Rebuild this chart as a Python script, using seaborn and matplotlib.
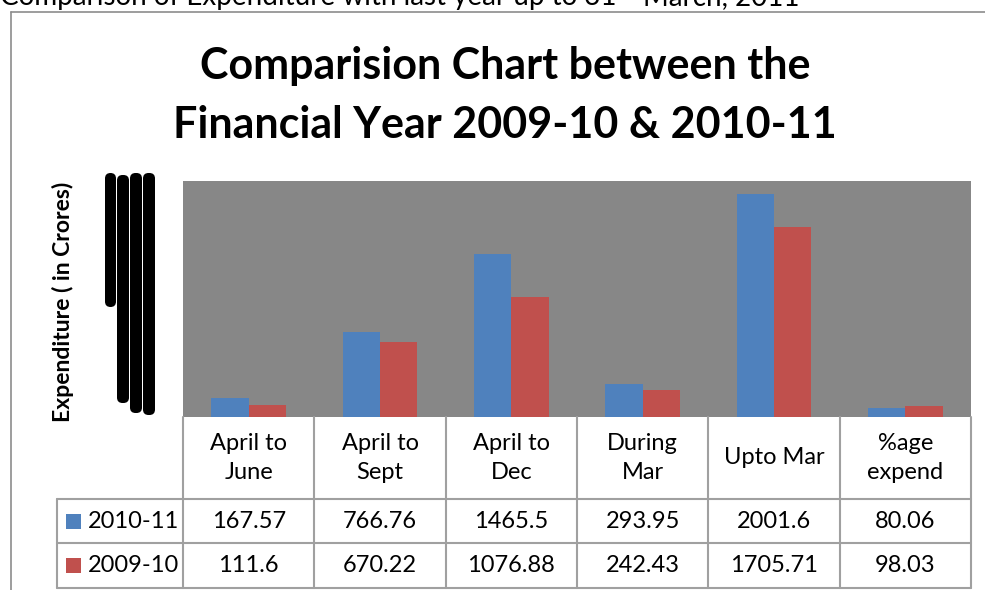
import numpy as np
import pandas as pd
import seaborn as sns
import matplotlib.pyplot as plt
from matplotlib.patches import FancyBboxPatch, Rectangle

categories = ["April to\nJune", "April to\nSept", "April to\nDec", "During\nMar", "Upto Mar", "%age\nexpend"]
series_names = ["2010-11", "2009-10"]
values_2010_11 = [167.57, 766.76, 1465.5, 293.95, 2001.6, 80.06]
values_2009_10 = [111.6, 670.22, 1076.88, 242.43, 1705.71, 98.03]
value_labels_2010_11 = ["167.57", "766.76", "1465.5", "293.95", "2001.6", "80.06"]
value_labels_2009_10 = ["111.6", "670.22", "1076.88", "242.43", "1705.71", "98.03"]

colors = ["#4F81BD", "#C0504D"]
grid_col = "#A0A0A0"

sns.set_theme(style="white")
plt.rcParams["font.family"] = ["Lato", "DejaVu Sans"]

W, H = 985, 590
fig = plt.figure(figsize=(W / 100, H / 100), dpi=100)


def fx(x):
    return x / W


def fy(y):
    return 1 - y / H


# plot area in pixel coords
L, R, T, B = 183, 971, 181, 417
ax = fig.add_axes([fx(L), fy(B), fx(R) - fx(L), fy(T) - fy(B)])

df = pd.DataFrame({
    "cat": categories * 2,
    "year": [series_names[0]] * 6 + [series_names[1]] * 6,
    "val": values_2010_11 + values_2009_10,
})
sns.barplot(data=df, x="cat", y="val", hue="year", palette=colors,
            width=0.57, gap=0, saturation=1, legend=False, ax=ax,
            edgecolor="none", linewidth=0)
ax.set_facecolor("#878787")
ax.set_xlim(-0.5, 5.5)
ax.set_ylim(0, 2118)
ax.set_xticks([])
ax.set_yticks([])
ax.set_xlabel("")
ax.set_ylabel("")
for s in ax.spines.values():
    s.set_visible(False)

# overlay in pixel coordinates for table, titles and frame
ov = fig.add_axes([0, 0, 1, 1])
ov.set_xlim(0, W)
ov.set_ylim(H, 0)
ov.axis("off")
ov.patch.set_visible(False)

# outer chart frame
ov.plot([11, 11], [12, H], color="#8C8C8C", lw=1.2)
ov.plot([11, W], [12, 12], color="#8C8C8C", lw=1.2)

# heading at top (cut by the edge, as in the source)
ov.text(0, 5, "Comparison of Expenditure with last year up to 31", fontsize=20,
        va="baseline", ha="left", color="black")
ov.text(643, 5, "March, 2011", fontsize=20, va="baseline", ha="left", color="black")

# chart title
ov.text(505, 79, "Comparision Chart between the", fontsize=31, fontweight="bold",
        ha="center", va="baseline", color="black")
ov.text(505, 138, "Financial Year 2009-10 & 2010-11", fontsize=31, fontweight="bold",
        ha="center", va="baseline", color="black")

# y axis label
ov.text(63, 302, "Expenditure ( in Crores)", fontsize=16.5, fontweight="bold",
        rotation=90, ha="center", va="center", color="black")

# overlapping tick label blobs
for x0, x1, y0, y1 in [(105, 116, 173, 307), (117, 129, 175, 403),
                       (130, 142, 173, 413), (143, 155, 173, 415)]:
    ov.add_patch(FancyBboxPatch((x0, y0), x1 - x0, y1 - y0,
                                boxstyle="round,pad=0,rounding_size=5.5",
                                fc="black", ec="none"))

# data table
edges = np.linspace(L, R, len(categories) + 1)
centers = (edges[:-1] + edges[1:]) / 2
row_lines = [B, 499, 543, 588]
for x in edges:
    ov.plot([x, x], [B, row_lines[-1]], color=grid_col, lw=1.5)
ov.plot([57, 57], [499, 588], color=grid_col, lw=1.5)
for y in row_lines[1:]:
    ov.plot([57, R], [y, y], color=grid_col, lw=1.5)

for cx, lab in zip(centers, categories):
    ov.text(cx, 458, lab, fontsize=17, ha="center", va="center", linespacing=1.45,
            color="black")

row_centers = [521, 565.5]
for rc, name, col, labs in zip(row_centers, series_names, colors,
                               [value_labels_2010_11, value_labels_2009_10]):
    ov.add_patch(Rectangle((66, rc - 7.5), 15, 15, fc=col, ec="none"))
    ov.text(88, rc, name, fontsize=17, ha="left", va="center", color="black")
    for cx, t in zip(centers, labs):
        ov.text(cx, rc, t, fontsize=17, ha="center", va="center", color="black")

fig.savefig("out.png", dpi=100)
